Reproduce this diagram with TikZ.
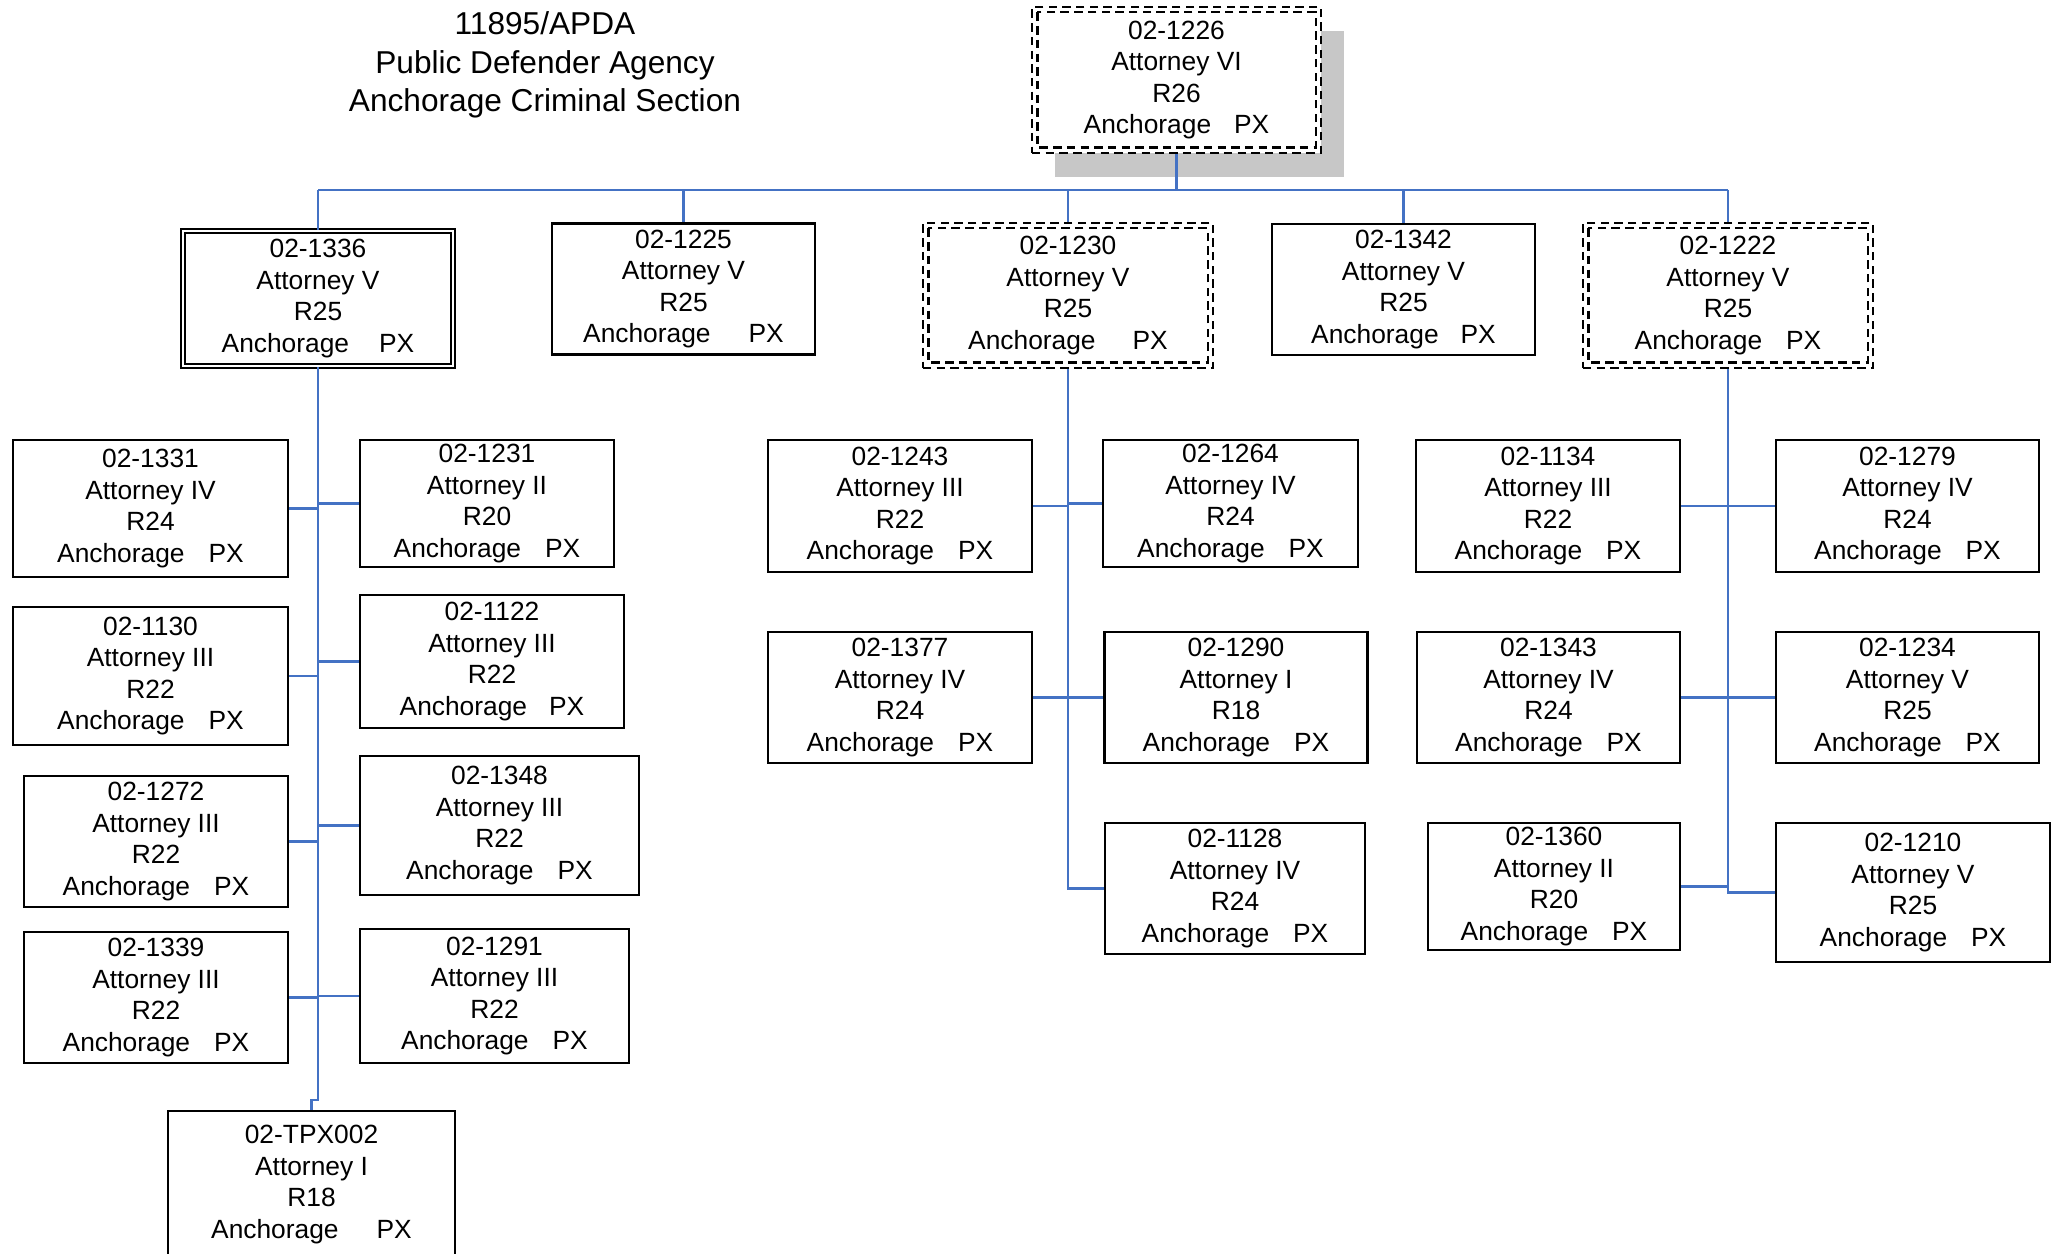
\documentclass[tikz,border=0pt]{standalone}
\usepackage{fontspec}
\setmainfont{Liberation Sans}
\usetikzlibrary{shadows}
\definecolor{linkblue}{HTML}{4472C4}
\newcommand{\anc}[1][2.4mm]{Anchorage\hspace{#1}PX}

\begin{document}
\begin{tikzpicture}[posbox/.style={draw, rectangle, inner sep=0pt, align=center,
                      line width=0.6pt, font={\fontsize{7.5}{9}\selectfont}},
                    dashbox/.style={dash pattern=on 2.4pt off 1.5pt},
                    link/.style={draw=linkblue, line width=0.6pt}]

  \useasboundingbox (0,0) rectangle (20.52,-12.54);

  \node[align=center, font={\fontsize{9}{10.9}\selectfont}] (title) at (5.45,-0.65)
    {11895/APDA\\Public Defender Agency\\Anchorage Criminal Section};

  % top
  \node[posbox, dashbox, fill=white, minimum width=2.89cm, minimum height=1.46cm,
        drop shadow={shadow xshift=0.23cm, shadow yshift=-0.24cm, fill=black!22, opacity=1}]
        (p1226) at (11.765,-0.80) {02-1226\\Attorney VI\\R26\\\anc[2.3mm]};

  % second row
  \node[posbox, double, line width=0.55pt, double distance=0.75pt, minimum width=2.70cm, minimum height=1.35cm]
        (p1336) at (3.18,-2.985) {02-1336\\Attorney V\\R25\\\anc[3.0mm]};
  \node[posbox, minimum width=2.63cm, minimum height=1.31cm] (p1225) at (6.835,-2.89) {02-1225\\Attorney V\\R25\\\anc[3.8mm]};
  \node[posbox, dashbox, minimum width=2.90cm, minimum height=1.45cm] (p1230) at (10.68,-2.955) {02-1230\\Attorney V\\R25\\\anc[3.7mm]};
  \node[posbox, minimum width=2.63cm, minimum height=1.31cm] (p1342) at (14.035,-2.895) {02-1342\\Attorney V\\R25\\\anc[2.2mm]};
  \node[posbox, dashbox, minimum width=2.90cm, minimum height=1.45cm] (p1222) at (17.28,-2.955) {02-1222\\Attorney V\\R25\\\anc};

  % under 02-1336
  \node[posbox, minimum width=2.75cm, minimum height=1.37cm] (p1331) at (1.505,-5.085) {02-1331\\Attorney IV\\R24\\\anc};
  \node[posbox, minimum width=2.75cm, minimum height=1.38cm] (p1130) at (1.505,-6.76) {02-1130\\Attorney III\\R22\\\anc};
  \node[posbox, minimum width=2.64cm, minimum height=1.31cm] (p1272) at (1.56,-8.415) {02-1272\\Attorney III\\R22\\\anc};
  \node[posbox, minimum width=2.64cm, minimum height=1.31cm] (p1339) at (1.56,-9.975) {02-1339\\Attorney III\\R22\\\anc};
  \node[posbox, minimum width=2.54cm, minimum height=1.27cm] (p1231) at (4.87,-5.035) {02-1231\\Attorney II\\R20\\\anc};
  \node[posbox, minimum width=2.64cm, minimum height=1.33cm] (p1122) at (4.92,-6.615) {02-1122\\Attorney III\\R22\\\anc[2.2mm]};
  \node[posbox, minimum width=2.79cm, minimum height=1.39cm] (p1348) at (4.995,-8.255) {02-1348\\Attorney III\\R22\\\anc};
  \node[posbox, minimum width=2.69cm, minimum height=1.34cm] (p1291) at (4.945,-9.96) {02-1291\\Attorney III\\R22\\\anc};
  \node[posbox, minimum width=2.87cm, minimum height=1.47cm] (pTPX002) at (3.115,-11.845) {02-TPX002\\Attorney I\\R18\\\anc[3.8mm]};

  % under 02-1230
  \node[posbox, minimum width=2.64cm, minimum height=1.32cm] (p1243) at (9.00,-5.06) {02-1243\\Attorney III\\R22\\\anc};
  \node[posbox, minimum width=2.64cm, minimum height=1.31cm] (p1377) at (9.00,-6.975) {02-1377\\Attorney IV\\R24\\\anc};
  \node[posbox, minimum width=2.55cm, minimum height=1.27cm] (p1264) at (12.305,-5.035) {02-1264\\Attorney IV\\R24\\\anc};
  \node[posbox, minimum width=2.63cm, minimum height=1.31cm] (p1290) at (12.36,-6.975) {02-1290\\Attorney I\\R18\\\anc};
  \node[posbox, minimum width=2.60cm, minimum height=1.31cm] (p1128) at (12.35,-8.885) {02-1128\\Attorney IV\\R24\\\anc};

  % under 02-1222
  \node[posbox, minimum width=2.64cm, minimum height=1.32cm] (p1134) at (15.48,-5.06) {02-1134\\Attorney III\\R22\\\anc};
  \node[posbox, minimum width=2.63cm, minimum height=1.31cm] (p1343) at (15.485,-6.975) {02-1343\\Attorney IV\\R24\\\anc};
  \node[posbox, minimum width=2.52cm, minimum height=1.27cm] (p1360) at (15.54,-8.865) {02-1360\\Attorney II\\R20\\\anc};
  \node[posbox, minimum width=2.63cm, minimum height=1.32cm] (p1279) at (19.075,-5.06) {02-1279\\Attorney IV\\R24\\\anc};
  \node[posbox, minimum width=2.63cm, minimum height=1.31cm] (p1234) at (19.075,-6.975) {02-1234\\Attorney V\\R25\\\anc};
  \node[posbox, minimum width=2.74cm, minimum height=1.39cm] (p1210) at (19.13,-8.925) {02-1210\\Attorney V\\R25\\\anc};

  % inner dashed frames
  \foreach \n in {p1226,p1230,p1222}
    \draw[dashbox, line width=0.6pt] ([shift={(0.065,-0.065)}]\n.north west) rectangle ([shift={(-0.065,0.065)}]\n.south east);

  % connectors
  \coordinate (bus) at (0,-1.90);
  \coordinate (jog) at (3.18,-11.00);
  \draw[link] (p1226.south) -- (p1226.south |- bus);
  \draw[link] (p1336.north |- bus) -- (p1222.north |- bus);
  \foreach \n in {p1336,p1225,p1230,p1342,p1222}
    \draw[link] (\n.north |- bus) -- (\n.north);

  \draw[link] (p1336.south) -- (jog) -| (pTPX002.north);
  \foreach \n in {p1331,p1130,p1272,p1339}
    \draw[link] (\n.east) -- (\n.east -| p1336.south);
  \foreach \n in {p1231,p1122,p1348,p1291}
    \draw[link] (\n.west) -- (\n.west -| p1336.south);

  \draw[link] (p1230.south) |- (p1128.west);
  \foreach \n in {p1243,p1377}
    \draw[link] (\n.east) -- (\n.east -| p1230.south);
  \foreach \n in {p1264,p1290}
    \draw[link] (\n.west) -- (\n.west -| p1230.south);

  \draw[link] (p1222.south) |- (p1210.west);
  \foreach \n in {p1134,p1343,p1360}
    \draw[link] (\n.east) -- (\n.east -| p1222.south);
  \foreach \n in {p1279,p1234}
    \draw[link] (\n.west) -- (\n.west -| p1222.south);
\end{tikzpicture}
\end{document}
